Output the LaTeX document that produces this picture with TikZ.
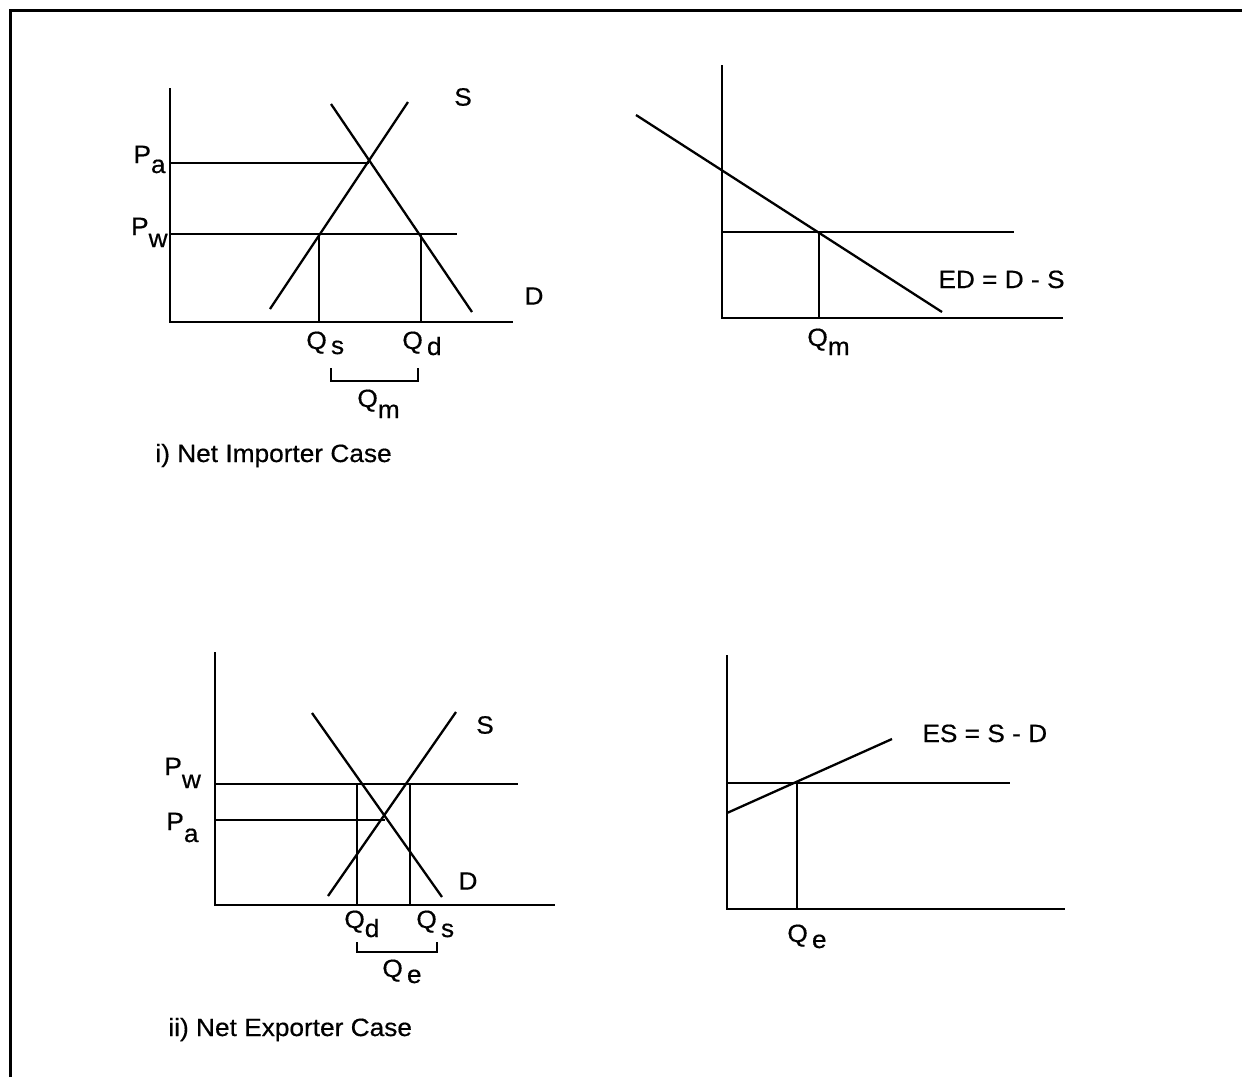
\documentclass[tikz,border=0pt]{standalone}
\usepackage{fontspec}
\setmainfont{Liberation Sans}[FakeStretch=1.05,FakeBold=0.5]
\newcommand\lowsub[2]{\raisebox{-#1}{#2}}
\begin{document}
\begin{tikzpicture}[x=0.5pt,y=-0.5pt,
  axis/.style={line width=1.4pt},
  curve/.style={line width=1.15pt},
  guide/.style={line width=1.05pt},
  frame/.style={line width=1.5pt},
  lbl/.style={inner sep=0pt,font=\fontsize{12.5pt}{14pt}\selectfont},
  bl/.style={lbl,anchor=base west},
  br/.style={lbl,anchor=base east}]
\useasboundingbox (0,0) rectangle (1242,1077);
% frame
\coordinate (fbl) at (10,1077);
\coordinate (ftl) at (10,10);
\coordinate (ftr) at (1242,10);
\draw[frame] (fbl) -- (ftl) -- (ftr);

% ---------- Panel 1: net importer ----------
\coordinate (o1) at (170,322);
\coordinate (y1) at (170,88);
\coordinate (x1) at (513,322);
\draw[axis] (y1) -- (o1) -- (x1);
\coordinate (s1a) at (270,309);
\coordinate (s1b) at (408,102);
\coordinate (d1a) at (331,104);
\coordinate (d1b) at (472,312);
\draw[curve] (s1a) -- (s1b);
\draw[curve] (d1a) -- (d1b);
\coordinate (pa1) at (170,163);
\coordinate (pa1e) at (369,163);
\draw[guide] (pa1) -- (pa1e);
\coordinate (pw1) at (170,234);
\coordinate (pw1e) at (457,234);
\draw[guide] (pw1) -- (pw1e);
\coordinate (qs1t) at (319,234);
\coordinate (qs1b) at (319,322);
\coordinate (qd1t) at (421,234);
\coordinate (qd1b) at (421,322);
\draw[guide] (qs1t) -- (qs1b);
\draw[guide] (qd1t) -- (qd1b);
\coordinate (br1a) at (331,368);
\coordinate (br1b) at (331,381);
\coordinate (br1c) at (418,381);
\coordinate (br1d) at (418,368);
\draw[guide] (br1a) -- (br1b) -- (br1c) -- (br1d);
\node[lbl] (S1) at (463,97) {S};
\node[lbl] (D1) at (534,296) {D};
\node[br] (Pa1) at (166,163) {P\lowsub{5pt}{a}};
\node[br] (Pw1) at (168,235) {P\lowsub{6pt}{w}};
\node[bl] (Qs1) at (306,349) {Q\,\lowsub{2.5pt}{s}};
\node[bl] (Qd1) at (402,349) {Q\,\lowsub{3pt}{d}};
\node[bl] (Qm1) at (357,407) {Q\lowsub{5.5pt}{m}};
\node[bl] (cap1) at (155,462) {i) Net Importer Case};

% ---------- Panel 2: excess demand ----------
\coordinate (o2) at (722,318);
\coordinate (y2) at (722,65);
\coordinate (x2) at (1063,318);
\draw[axis] (y2) -- (o2) -- (x2);
\coordinate (ed2a) at (636,115);
\coordinate (ed2b) at (942,312);
\draw[curve] (ed2a) -- (ed2b);
\coordinate (pw2) at (722,232);
\coordinate (pw2e) at (1014,232);
\draw[guide] (pw2) -- (pw2e);
\coordinate (qm2t) at (819,232);
\coordinate (qm2b) at (819,318);
\draw[guide] (qm2t) -- (qm2b);
\node[bl] (ED2) at (938,288) {ED = D - S};
\node[bl] (Qm2) at (807,346) {Q\lowsub{4.5pt}{m}};

% ---------- Panel 3: net exporter ----------
\coordinate (o3) at (215,905);
\coordinate (y3) at (215,652);
\coordinate (x3) at (555,905);
\draw[axis] (y3) -- (o3) -- (x3);
\coordinate (s3a) at (328,896);
\coordinate (s3b) at (456,712);
\coordinate (d3a) at (312,713);
\coordinate (d3b) at (442,897);
\draw[curve] (s3a) -- (s3b);
\draw[curve] (d3a) -- (d3b);
\coordinate (pw3) at (215,784);
\coordinate (pw3e) at (518,784);
\draw[guide] (pw3) -- (pw3e);
\coordinate (pa3) at (215,820);
\coordinate (pa3e) at (385,820);
\draw[guide] (pa3) -- (pa3e);
\coordinate (qd3t) at (357,784);
\coordinate (qd3b) at (357,905);
\coordinate (qs3t) at (410,784);
\coordinate (qs3b) at (410,905);
\draw[guide] (qd3t) -- (qd3b);
\draw[guide] (qs3t) -- (qs3b);
\coordinate (br3a) at (357,942);
\coordinate (br3b) at (357,952);
\coordinate (br3c) at (437,952);
\coordinate (br3d) at (437,942);
\draw[guide] (br3a) -- (br3b) -- (br3c) -- (br3d);
\node[lbl] (S3) at (485,725) {S};
\node[lbl] (D3) at (468,881) {D};
\node[bl] (Pw3) at (164,775) {P\lowsub{6.5pt}{w}};
\node[bl] (Pa3) at (166,830) {P\lowsub{6pt}{a}};
\node[bl] (Qd3) at (344,928) {Q\lowsub{4.5pt}{d}};
\node[bl] (Qs3) at (416,928) {Q\,\lowsub{4.5pt}{s}};
\node[bl] (Qe3) at (382,977) {Q\,\lowsub{3pt}{e}};
\node[bl] (cap3) at (168,1036) {ii) Net Exporter Case};

% ---------- Panel 4: excess supply ----------
\coordinate (o4) at (727,909);
\coordinate (y4) at (727,655);
\coordinate (x4) at (1065,909);
\draw[axis] (y4) -- (o4) -- (x4);
\coordinate (es4a) at (727,813);
\coordinate (es4b) at (892,739);
\draw[curve] (es4a) -- (es4b);
\coordinate (pw4) at (727,783);
\coordinate (pw4e) at (1010,783);
\draw[guide] (pw4) -- (pw4e);
\coordinate (qe4t) at (797,783);
\coordinate (qe4b) at (797,909);
\draw[guide] (qe4t) -- (qe4b);
\node[bl] (ES4) at (922,742) {ES = S - D};
\node[bl] (Qe4) at (787,942) {Q\,\lowsub{3pt}{e}};
\end{tikzpicture}
\end{document}
